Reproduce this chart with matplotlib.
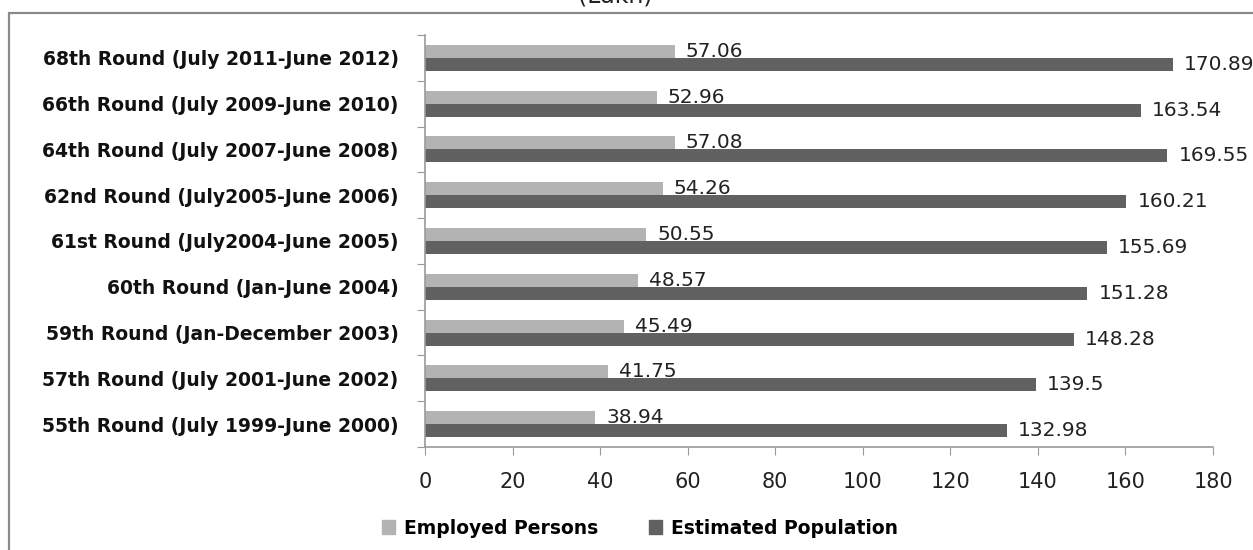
import matplotlib
matplotlib.use("Agg")
import matplotlib.pyplot as plt
from matplotlib.patches import Rectangle, Patch
import numpy as np

categories = [
    "55th Round (July 1999-June 2000)",
    "57th Round (July 2001-June 2002)",
    "59th Round (Jan-December 2003)",
    "60th Round (Jan-June 2004)",
    "61st Round (July2004-June 2005)",
    "62nd Round (July2005-June 2006)",
    "64th Round (July 2007-June 2008)",
    "66th Round (July 2009-June 2010)",
    "68th Round (July 2011-June 2012)",
]
employed = [38.94, 41.75, 45.49, 48.57, 50.55, 54.26, 57.08, 52.96, 57.06]
population = [132.98, 139.5, 148.28, 151.28, 155.69, 160.21, 169.55, 163.54, 170.89]
x_ticks = [0, 20, 40, 60, 80, 100, 120, 140, 160, 180]
series_names = ["Employed Persons", "Estimated Population"]
title_text = "(Lakh)"

W, H = 1253, 550
fig = plt.figure(figsize=(W / 100, H / 100), dpi=100)

light = "#b3b3b3"
dark = "#616161"
axis_col = "#9a9a9a"

# outer frame
fig.patches.append(Rectangle((9 / W, -0.05), 1.1, 1 - 13 / H + 0.05,
                             transform=fig.transFigure, fill=False,
                             edgecolor="#8a8a8a", linewidth=1.6))
fig.text(615 / W, 1 - 2 / H, title_text, ha="center", va="baseline",
         fontsize=17, family="DejaVu Sans", color="#222222")

ax = fig.add_axes([425 / W, 1 - 447 / H, (1213 - 425) / W, (447 - 35) / H])
y = np.arange(len(categories))
h = 0.285
b1 = ax.barh(y + h / 2, employed, height=h, color=light, label=series_names[0])
b2 = ax.barh(y - h / 2, population, height=h, color=dark, label=series_names[1])

for bars, vals in ((b1, employed), (b2, population)):
    for bar, v in zip(bars, vals):
        ax.annotate(f"{v:g}", (bar.get_width(), bar.get_y() + bar.get_height() / 2),
                    xytext=(8, 0), textcoords="offset points", ha="left", va="center",
                    fontsize=14.5, family="DejaVu Sans", color="#222222")

ax.set_xlim(0, 180)
ax.set_ylim(-0.5, len(categories) - 0.5)
ax.set_xticks(x_ticks)
ax.set_xticklabels([str(t) for t in x_ticks], fontsize=15, family="DejaVu Sans", color="#222222")
ax.set_yticks(np.arange(len(categories) + 1) - 0.5, minor=False)
ax.set_yticklabels([])
ax.set_yticks(y, minor=True)
ax.set_yticklabels(categories, minor=True, fontsize=13.5, fontweight="bold",
                   family="DejaVu Sans", color="#111111")
ax.tick_params(axis="y", which="major", length=6, color=axis_col, direction="out")
ax.tick_params(axis="y", which="minor", length=0, pad=19)
ax.tick_params(axis="x", length=6, color=axis_col, direction="out", pad=12)
for s in ("top", "right"):
    ax.spines[s].set_visible(False)
for s in ("left", "bottom"):
    ax.spines[s].set_color(axis_col)
    ax.spines[s].set_linewidth(1.2)

handles = [Patch(color=light), Patch(color=dark)]
fig.legend(handles, series_names, loc="center", bbox_to_anchor=(640 / W, 1 - 528 / H),
           ncol=2, frameon=False, handlelength=0.7, handleheight=0.7,
           handletextpad=0.5, columnspacing=2.7,
           prop={"family": "DejaVu Sans", "weight": "bold", "size": 13.5})

fig.savefig("out.png", dpi=100)
